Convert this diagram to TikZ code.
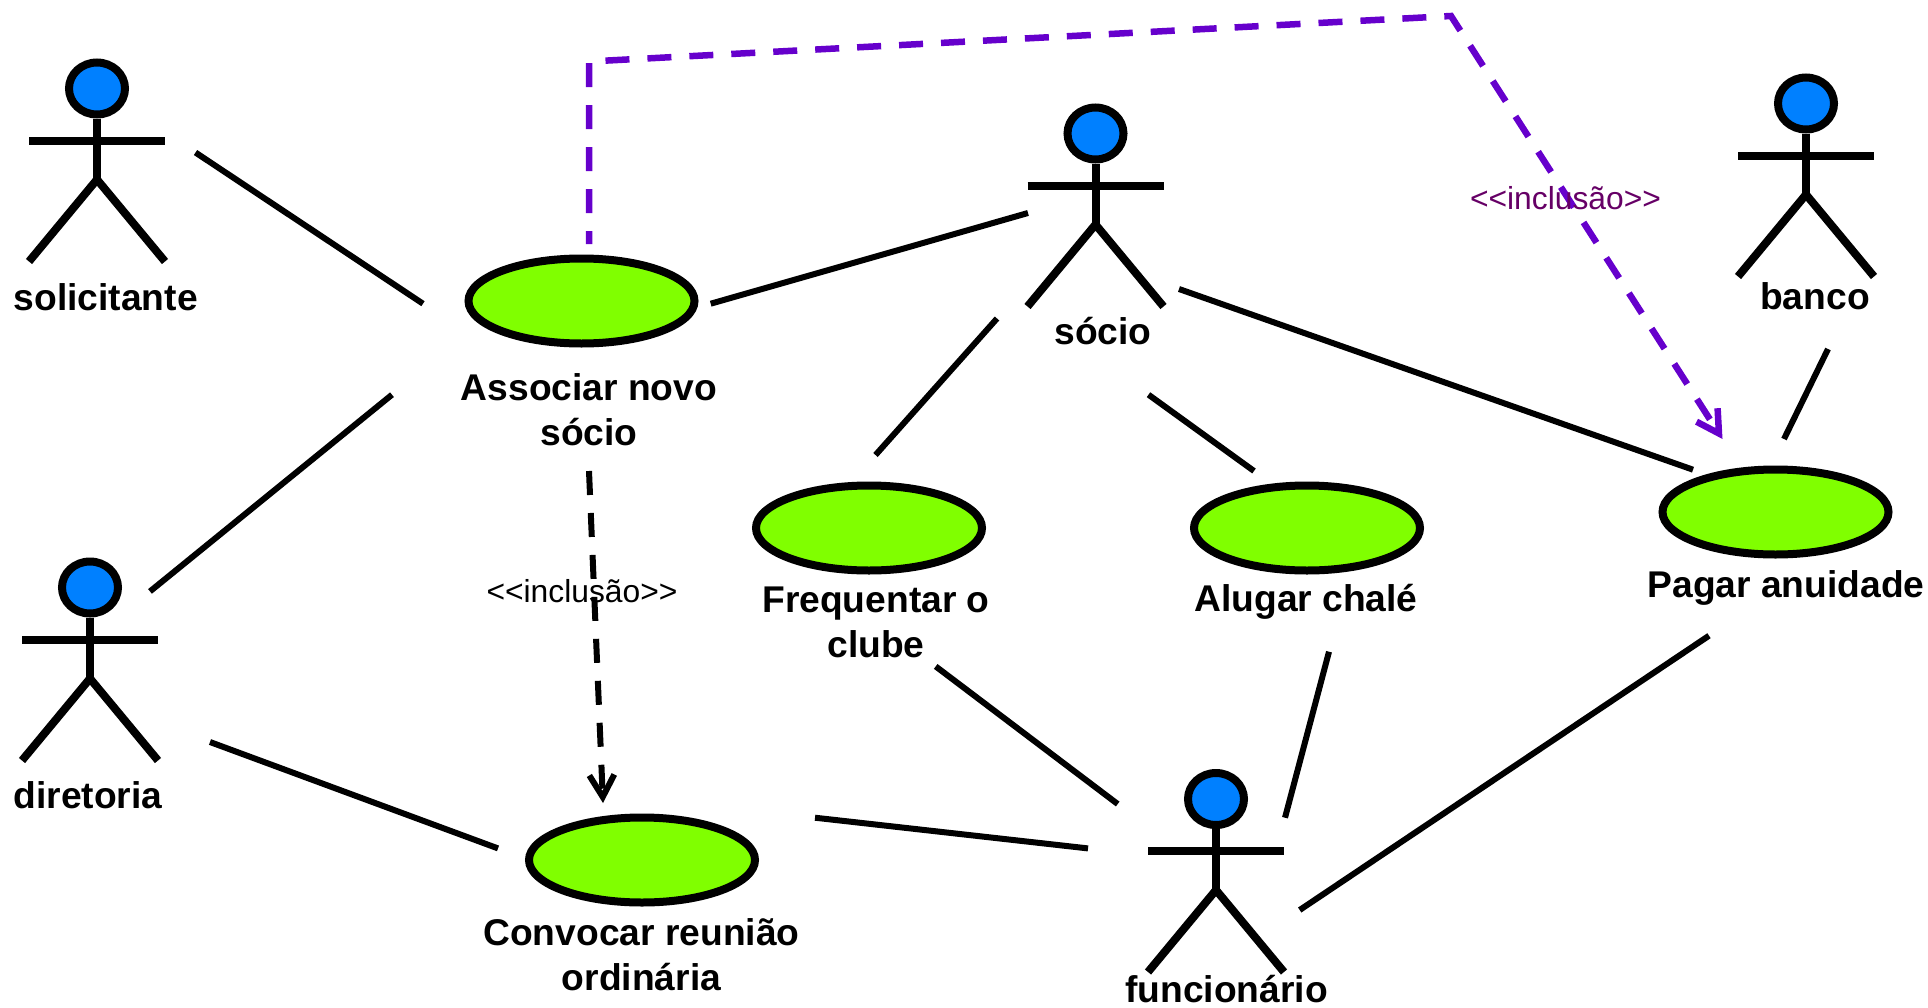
\documentclass[tikz,border=0pt]{standalone}
\usepackage{fontspec}
\setmainfont{Liberation Sans}
\usetikzlibrary{shapes.geometric,arrows.meta}
\definecolor{usecasegreen}{HTML}{80FF00}
\definecolor{headblue}{HTML}{0080FF}
\definecolor{incviolet}{HTML}{6600CC}
\definecolor{inctext}{HTML}{660066}
\tikzset{
  x=1pt,y=-1pt,
  usecase/.style={draw=black,line width=8pt,fill=usecasegreen,ellipse,inner sep=0pt,minimum width=226pt,minimum height=85pt},
  actorhead/.style={draw=black,line width=8pt,fill=headblue,ellipse,inner sep=0pt,minimum width=56pt,minimum height=52pt},
  limb/.style={draw=black,line width=8pt},
  assoc/.style={draw=black,line width=6pt},
  lbl/.style={font=\fontsize{37.2}{45}\selectfont\bfseries,align=center,inner sep=0pt},
  inclbl/.style={font=\fontsize{31.8}{38}\selectfont,inner sep=0pt},
  incblack/.style={draw=black,line width=6pt,dash pattern=on 24pt off 18pt,-{Straight Barb[length=22pt,width=25pt]}},
  incpurple/.style={draw=incviolet,line width=6.5pt,dash pattern=on 24pt off 18pt,dash phase=11pt,-{Straight Barb[length=22pt,width=25pt]}},
  actor/.pic={
    \node[actorhead] (-head) at (0,-52) {};
    \coordinate (-hip) at (0,39);
    \coordinate (-armL) at (-68,0);
    \coordinate (-armR) at (68,0);
    \coordinate (-legL) at (-68,121);
    \coordinate (-legR) at (68,121);
    \draw[limb] (-head) -- (-hip);
    \draw[limb] (-armL) -- (-armR);
    \draw[limb,line join=miter] (-legL) -- (-hip) -- (-legR);
  }
}
\begin{document}
\begin{tikzpicture}
\useasboundingbox (0,0) rectangle (1928,1007);
% use cases
\node[usecase] (associar) at (581.5,301) {};
\node[usecase] (frequentar) at (869,528) {};
\node[usecase] (alugar) at (1307,528) {};
\node[usecase] (pagar) at (1775.5,512) {};
\node[usecase] (convocar) at (642,860) {};
% actors
\pic (sol) at (97,140.5) {actor};
\pic (soc) at (1095.5,185.5) {actor};
\pic (ban) at (1806,155.5) {actor};
\pic (dir) at (90,639.5) {actor};
\pic (fun) at (1216,851) {actor};
% labels
\node[lbl] (tsol) at (105.7,297) {solicitante};
\node[lbl] (tass) at (589,409.5) {Associar novo\\sócio};
\node[lbl] (tsoc) at (1103,331) {sócio};
\node[lbl] (tban) at (1815,296) {banco};
\node[lbl] (tdir) at (88,795) {diretoria};
\node[lbl] (tfun) at (1226.5,989) {funcionário};
\node[lbl] (tfre) at (876,622.5) {Frequentar o\\clube};
\node[lbl] (talu) at (1306,602) {Alugar chalé};
\node[lbl] (tpag) at (1786,587.5) {Pagar anuidade};
\node[lbl] (tcon) at (641.5,954.5) {Convocar reunião\\ordinária};
% connector ends
\coordinate (a1) at (195.5,152.5); \coordinate (b1) at (423,303.7);
\coordinate (a2) at (710.7,303.7); \coordinate (b2) at (1028,213);
\coordinate (a3) at (150,591.4); \coordinate (b3) at (392,394.7);
\coordinate (a4) at (997,318.5); \coordinate (b4) at (875.5,455);
\coordinate (a5) at (1148.5,394.7); \coordinate (b5) at (1254,471);
\coordinate (a6) at (1179,289); \coordinate (b6) at (1693,469.7);
\coordinate (a7) at (1828,349); \coordinate (b7) at (1784,439);
\coordinate (a8) at (210,742); \coordinate (b8) at (498,848.4);
\coordinate (a9) at (815,817.7); \coordinate (b9) at (1088,848.4);
\coordinate (a10) at (935.7,666.4); \coordinate (b10) at (1117.7,804);
\coordinate (a11) at (1329,651.7); \coordinate (b11) at (1285,817.7);
\coordinate (a12) at (1709,635.7); \coordinate (b12) at (1299.7,910);
\foreach \i in {1,...,12} {\draw[assoc] (a\i) -- (b\i);}
% includes
\coordinate (ia) at (589,471); \coordinate (ib) at (603,803);
\draw[incblack] (ia) -- (ib);
\coordinate (pa) at (589,244); \coordinate (pb) at (589,61.5);
\coordinate (pc) at (1451,16); \coordinate (pd) at (1722.5,439);
\draw[incpurple] (pa) -- (pb) -- (pc) -- (pd);
\node[inclbl,text=black] (inc1) at (582,591.5) {<{}<inclusão>{}>};
\node[inclbl,text=inctext] (inc2) at (1565.5,198.5) {<{}<inclusão>{}>};
\end{tikzpicture}
\end{document}
